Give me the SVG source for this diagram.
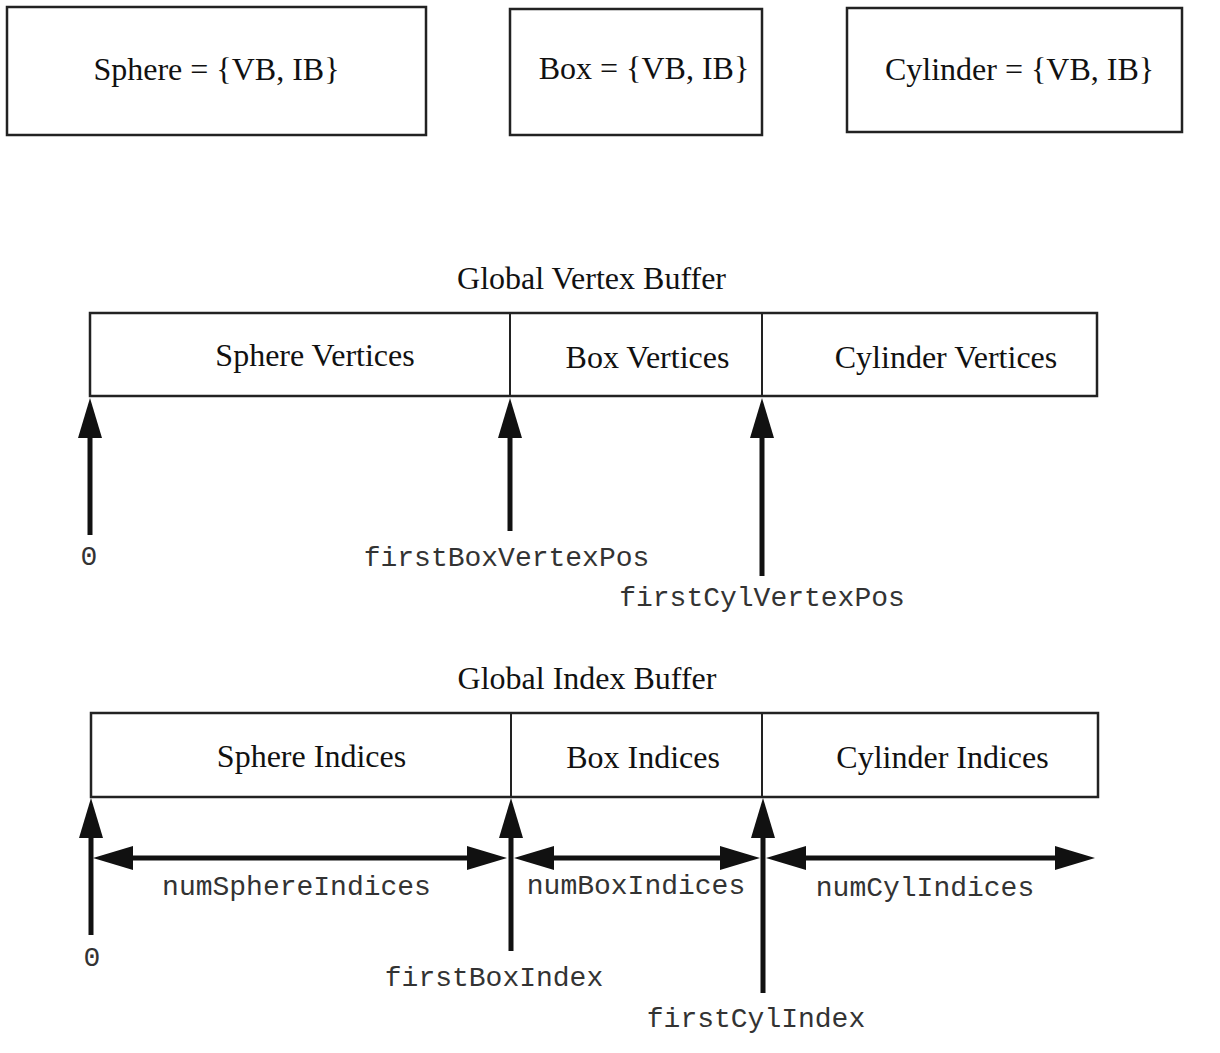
<svg xmlns="http://www.w3.org/2000/svg" width="1220" height="1053" viewBox="0 0 1220 1053">
<style>
.box{fill:#fff;stroke:#222;stroke-width:2.5}
.div{stroke:#222;stroke-width:2}
.t{font-family:"Liberation Serif","Times New Roman",serif;font-size:32px;fill:#111;text-anchor:middle}
.m{font-family:"Liberation Mono","Courier New",monospace;font-size:28px;fill:#333;text-anchor:middle}
.a{stroke:#111;stroke-width:5;fill:none}
</style>
<defs>
<marker id="ah" viewBox="0 0 40 24" refX="20" refY="12" markerWidth="40" markerHeight="24" markerUnits="userSpaceOnUse" orient="auto-start-reverse">
<path d="M0,0 L40,12 L0,24 z" fill="#111"/>
</marker>
</defs>
<rect width="1220" height="1053" fill="#fff"/>
<g id="sphere">
<rect class="box" x="7" y="7" width="419" height="128"/>
<text class="t" x="216.5" y="80">Sphere = {VB, IB}</text>
</g>
<g id="box">
<rect class="box" x="510" y="9" width="252" height="126"/>
<text class="t" x="644" y="79">Box = {VB, IB}</text>
</g>
<g id="cylinder">
<rect class="box" x="847" y="8" width="335" height="124"/>
<text class="t" x="1019.5" y="80">Cylinder = {VB, IB}</text>
</g>
<g id="vertex-buffer">
<text class="t" x="591.5" y="289">Global Vertex Buffer</text>
<rect class="box" x="90" y="313" width="1007" height="83"/>
<line class="div" x1="510" y1="313" x2="510" y2="396"/>
<line class="div" x1="762" y1="313" x2="762" y2="396"/>
<text class="t" x="315" y="366">Sphere Vertices</text>
<text class="t" x="647.5" y="368">Box Vertices</text>
<text class="t" x="946" y="368">Cylinder Vertices</text>
</g>
<g id="index-buffer">
<text class="t" x="587" y="689">Global Index Buffer</text>
<rect class="box" x="91" y="713" width="1007" height="84"/>
<line class="div" x1="511" y1="713" x2="511" y2="797"/>
<line class="div" x1="762" y1="713" x2="762" y2="797"/>
<text class="t" x="311.5" y="767">Sphere Indices</text>
<text class="t" x="643" y="768">Box Indices</text>
<text class="t" x="942.5" y="768">Cylinder Indices</text>
</g>
<g id="connectors">
<line class="a" x1="90" y1="535" x2="90" y2="418" marker-end="url(#ah)"/>
<line class="a" x1="510" y1="531" x2="510" y2="418" marker-end="url(#ah)"/>
<line class="a" x1="762" y1="576" x2="762" y2="418" marker-end="url(#ah)"/>
<line class="a" x1="91" y1="935" x2="91" y2="818" marker-end="url(#ah)"/>
<line class="a" x1="511" y1="951" x2="511" y2="818" marker-end="url(#ah)"/>
<line class="a" x1="763" y1="993" x2="763" y2="818" marker-end="url(#ah)"/>
<line class="a" x1="113" y1="858" x2="487" y2="858" marker-start="url(#ah)" marker-end="url(#ah)"/>
<line class="a" x1="534" y1="858" x2="740" y2="858" marker-start="url(#ah)" marker-end="url(#ah)"/>
<line class="a" x1="786" y1="858" x2="1075" y2="858" marker-start="url(#ah)" marker-end="url(#ah)"/>
</g>
<g id="labels">
<text class="m" x="89" y="565">0</text>
<text class="m" x="506.5" y="566">firstBoxVertexPos</text>
<text class="m" x="762" y="606">firstCylVertexPos</text>
<text class="m" x="92" y="966">0</text>
<text class="m" x="296.5" y="895">numSphereIndices</text>
<text class="m" x="636" y="894">numBoxIndices</text>
<text class="m" x="925" y="896">numCylIndices</text>
<text class="m" x="494" y="986">firstBoxIndex</text>
<text class="m" x="756" y="1027">firstCylIndex</text>
</g>
</svg>
